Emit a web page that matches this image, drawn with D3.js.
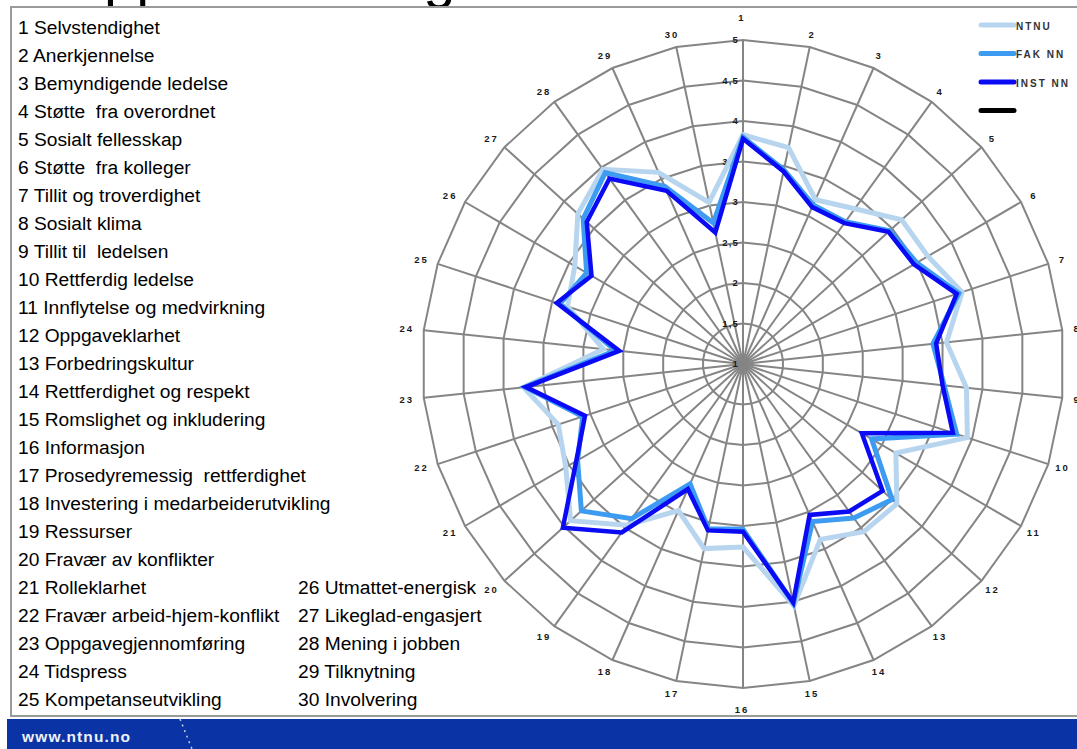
<!DOCTYPE html>
<html>
<head>
<meta charset="utf-8">
<script src="https://cdn.jsdelivr.net/npm/d3@7"></script>
<style>
  html, body { margin: 0; padding: 0; background: #fff; }
  svg { display: block; }
  text { font-family: "Liberation Sans", Arial, sans-serif; }
  .item { white-space: pre; }
</style>
</head>
<body>
<svg id="chart" width="1077" height="749"></svg>
<script>
// Dimension names, numbered 1..30 around the radar
const categories = [
  "Selvstendighet", "Anerkjennelse", "Bemyndigende ledelse", "Støtte  fra overordnet",
  "Sosialt fellesskap", "Støtte  fra kolleger", "Tillit og troverdighet", "Sosialt klima",
  "Tillit til  ledelsen", "Rettferdig ledelse", "Innflytelse og medvirkning", "Oppgaveklarhet",
  "Forbedringskultur", "Rettferdighet og respekt", "Romslighet og inkludering", "Informasjon",
  "Prosedyremessig  rettferdighet", "Investering i medarbeiderutvikling", "Ressurser",
  "Fravær av konflikter", "Rolleklarhet", "Fravær arbeid-hjem-konflikt", "Oppgavegjennomføring",
  "Tidspress", "Kompetanseutvikling", "Utmattet-energisk", "Likeglad-engasjert",
  "Mening i jobben", "Tilknytning", "Involvering"
];

// Mean scores per dimension
const ntnu = [3.83, 3.73, 3.22, 3.37, 3.66, 3.66, 3.87, 3.55, 3.80, 3.94,
              3.20, 3.58, 3.56, 3.37, 4.05, 3.26, 3.33, 2.98, 3.46, 3.89,
              3.55, 3.42, 3.75, 2.75, 3.30, 3.42, 3.77, 3.97, 3.59, 3.04];
const fakNN = [3.80, 3.45, 3.15, 3.17, 3.46, 3.50, 3.83, 3.38, 3.52, 3.80,
               2.85, 3.50, 3.35, 3.13, 4.02, 3.04, 3.08, 2.62, 3.36, 3.71,
               3.38, 3.10, 3.73, 2.60, 3.40, 3.25, 3.68, 3.92, 3.40, 2.78];
const instNN = [3.78, 3.43, 3.12, 3.15, 3.44, 3.46, 3.80, 3.42, 3.50, 3.75,
                2.71, 3.34, 3.25, 3.04, 4.01, 3.07, 3.10, 2.69, 3.57, 4.02,
                3.40, 3.07, 3.72, 2.55, 3.44, 3.18, 3.62, 3.83, 3.34, 2.66];

// Radial tick values and their printed labels
const radialTicks = [1, 1.5, 2, 2.5, 3, 3.5, 4, 4.5, 5];
const radialTickLabels = ["1", "1,5", "2", "2,5", "3", "3,5", "4", "4,5", "5"];

// Legend entries (the fourth series has no name and no data)
const seriesNames = ["NTNU", "FAK NN", "INST NN", ""];
const seriesColors = ["#b7d5ee", "#3d9bf2", "#0a0af5", "#000000"];

const svg = d3.select("#chart");

// ---- slide title (runs off the top of the frame) ----
svg.append("text")
  .attr("x", 59).attr("y", -3)
  .attr("font-size", 58)
  .attr("fill", "#000")
  .text("Oppsummering");

// ---- chart frame ----
svg.append("rect")
  .attr("x", 11).attr("y", 7)
  .attr("width", 1080).attr("height", 709)
  .attr("fill", "#fff")
  .attr("stroke", "#9a9a9a")
  .attr("stroke-width", 2);

// ---- numbered list of dimensions ----
const listG = svg.append("g");
categories.forEach((name, i) => {
  const col = i < 25 ? 0 : 1;
  const row = i < 25 ? i : i - 5;
  listG.append("text")
    .attr("class", "item")
    .attr("x", col === 0 ? 18 : 298)
    .attr("y", 27 + row * 28.0)
    .attr("dy", "0.35em")
    .attr("font-size", 19.2)
    .attr("fill", "#000")
    .text((i + 1) + " " + name);
});

// ---- radar ----
const cx = 743, cy = 364;
const rx = 321, ry = 324;
const n = categories.length;
const r = d3.scaleLinear().domain([1, 5]).range([0, 1]);
const angle = d3.scaleLinear().domain([0, n]).range([0, 2 * Math.PI]);

function pt(i, v) {
  const a = angle(i), t = r(v);
  return [cx + rx * t * Math.sin(a), cy - ry * t * Math.cos(a)];
}

const grid = svg.append("g").attr("stroke", "#858585").attr("fill", "none").attr("stroke-width", 2);

// spokes
d3.range(n).forEach(i => {
  const [x2, y2] = pt(i, 5);
  grid.append("line").attr("x1", cx).attr("y1", cy).attr("x2", x2).attr("y2", y2);
});

// polygonal rings
const ringLine = d3.line().curve(d3.curveLinearClosed);
radialTicks.slice(1).forEach(v => {
  grid.append("path").attr("d", ringLine(d3.range(n).map(i => pt(i, v))));
});

// radial tick labels
radialTicks.forEach((v, k) => {
  const [, y] = pt(0, v);
  svg.append("text")
    .attr("x", cx - 4).attr("y", y)
    .attr("dy", "0.35em")
    .attr("text-anchor", "end")
    .attr("font-size", 9.5)
    .attr("letter-spacing", 1.2)
    .attr("font-weight", "bold")
    .attr("fill", "#1a1a1a")
    .text(radialTickLabels[k]);
});

// axis number labels
d3.range(n).forEach(i => {
  const a = angle(i);
  const vertical = Math.abs(Math.sin(a)) < 1e-6;
  const rr = vertical ? 346 : 337;
  const x = 742 + rr * Math.sin(a);
  const y = cy - rr * Math.cos(a);
  svg.append("text")
    .attr("x", x).attr("y", y)
    .attr("dy", "0.35em")
    .attr("text-anchor", "middle")
    .attr("font-size", 9.5)
    .attr("letter-spacing", 2)
    .attr("font-weight", "bold")
    .attr("fill", "#1a1a1a")
    .text(i + 1);
});

// series lines
const seriesData = [ntnu, fakNN, instNN];
const widths = [5, 5, 4.5];
const lineGen = d3.line().curve(d3.curveLinearClosed);
seriesData.forEach((vals, s) => {
  svg.append("path")
    .attr("d", lineGen(vals.map((v, i) => pt(i, v))))
    .attr("fill", "none")
    .attr("stroke", seriesColors[s])
    .attr("stroke-width", widths[s])
    .attr("stroke-linejoin", "miter");
});

// ---- legend ----
const legend = svg.append("g");
seriesNames.forEach((name, k) => {
  const y = 25 + k * 28.5;
  legend.append("line")
    .attr("x1", 981).attr("x2", 1014)
    .attr("y1", y).attr("y2", y)
    .attr("stroke", seriesColors[k])
    .attr("stroke-width", 5)
    .attr("stroke-linecap", "round");
  legend.append("text")
    .attr("x", 1016).attr("y", y + 1)
    .attr("dy", "0.35em")
    .attr("font-size", 10)
    .attr("letter-spacing", 2)
    .attr("font-weight", "bold")
    .attr("fill", "#333")
    .text(name);
});

// ---- footer bar ----
svg.append("rect")
  .attr("x", 7).attr("y", 719)
  .attr("width", 1070).attr("height", 30)
  .attr("fill", "#0a34a6");
svg.append("line")
  .attr("x1", 180).attr("y1", 719).attr("x2", 192).attr("y2", 749)
  .attr("stroke", "#c8cde0")
  .attr("stroke-width", 1.5)
  .attr("stroke-dasharray", "2,4");
svg.append("text")
  .attr("x", 22).attr("y", 737)
  .attr("dy", "0.35em")
  .attr("font-family", "'DejaVu Sans', Verdana, sans-serif")
  .attr("font-size", 15.5)
  .attr("font-weight", "bold")
  .attr("fill", "#eef1f8")
  .attr("textLength", 108)
  .attr("lengthAdjust", "spacing")
  .text("www.ntnu.no");
</script>
</body>
</html>
